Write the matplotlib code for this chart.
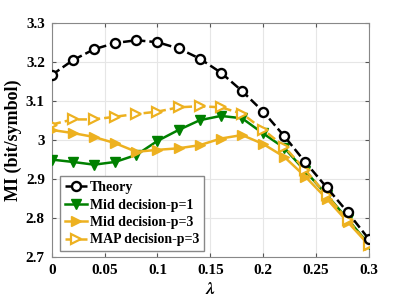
import matplotlib.pyplot as plt

lam = [0, 0.02, 0.04, 0.06, 0.08, 0.1, 0.12, 0.14, 0.16, 0.18, 0.2, 0.22, 0.24, 0.26, 0.28, 0.3]

theory = [3.167, 3.205, 3.233, 3.249, 3.256, 3.251, 3.235, 3.209, 3.173, 3.126,
          3.073, 3.010, 2.943, 2.879, 2.815, 2.746]
mid_p1 = [2.950, 2.944, 2.937, 2.944, 2.962, 2.998, 3.026, 3.051, 3.062, 3.056,
          3.017, 2.980, 2.920, 2.860, 2.797, 2.733]
mid_p3 = [3.026, 3.018, 3.008, 2.992, 2.970, 2.975, 2.979, 2.987, 3.004, 3.013,
          2.990, 2.957, 2.906, 2.850, 2.790, 2.731]
map_p3 = [3.040, 3.053, 3.053, 3.060, 3.067, 3.073, 3.084, 3.087, 3.084, 3.068,
          3.027, 2.983, 2.923, 2.859, 2.795, 2.731]

yellow = '#EDB120'
green = '#008000'

plt.rcParams['font.family'] = ['Liberation Serif', 'DejaVu Serif']
plt.rcParams['font.weight'] = 'bold'
plt.rcParams['mathtext.fontset'] = 'stix'

fig = plt.figure(figsize=(4.08, 3.0), dpi=100)
ax = fig.add_axes([0.127, 0.143, 0.777, 0.78])

ax.plot(lam, theory, '--o', color='black', lw=1.8, ms=6.5, mfc='white', mew=1.7,
        label='Theory', zorder=5)
ax.plot(lam, mid_p1, '-v', color=green, lw=1.8, ms=7.5, label='Mid decision-p=1', zorder=3)
ax.plot(lam, mid_p3, '->', color=yellow, lw=1.8, ms=7.5, label='Mid decision-p=3', zorder=4)
ax.plot(lam, map_p3, '-->', color=yellow, lw=1.8, ms=7.5, mfc='white', mew=1.6,
        label='MAP decision-p=3', zorder=4)

ax.set_xlim(0, 0.3)
ax.set_ylim(2.7, 3.3)
ax.set_xticks([0, 0.05, 0.1, 0.15, 0.2, 0.25, 0.3])
ax.set_xticklabels(['0', '0.05', '0.1', '0.15', '0.2', '0.25', '0.3'])
ax.set_yticks([2.7, 2.8, 2.9, 3.0, 3.1, 3.2, 3.3])
ax.set_yticklabels(['2.7', '2.8', '2.9', '3', '3.1', '3.2', '3.3'])
ax.tick_params(direction='in', top=True, right=True, labelsize=11, length=3,
               color='#555555', pad=5)
for lbl in ax.get_xticklabels() + ax.get_yticklabels():
    lbl.set_fontweight('bold')
ax.grid(True, color='#e6e6e6', lw=0.8)
ax.set_axisbelow(True)
for s in ax.spines.values():
    s.set_color('#888888')
    s.set_linewidth(0.8)

ax.set_xlabel(r'$\lambda$', fontsize=13, fontweight='normal', labelpad=3)
ax.set_ylabel('MI (bit/symbol)', fontsize=13, fontweight='bold', labelpad=3)

leg = ax.legend(loc='lower left', bbox_to_anchor=(0.025, 0.025), fontsize=10,
                handlelength=1.6, handletextpad=0.2, borderpad=0.35,
                labelspacing=0.32, fancybox=False, framealpha=1,
                edgecolor='#888888', borderaxespad=0)
for t in leg.get_texts():
    t.set_fontweight('bold')

fig.savefig('out.png', dpi=100)
